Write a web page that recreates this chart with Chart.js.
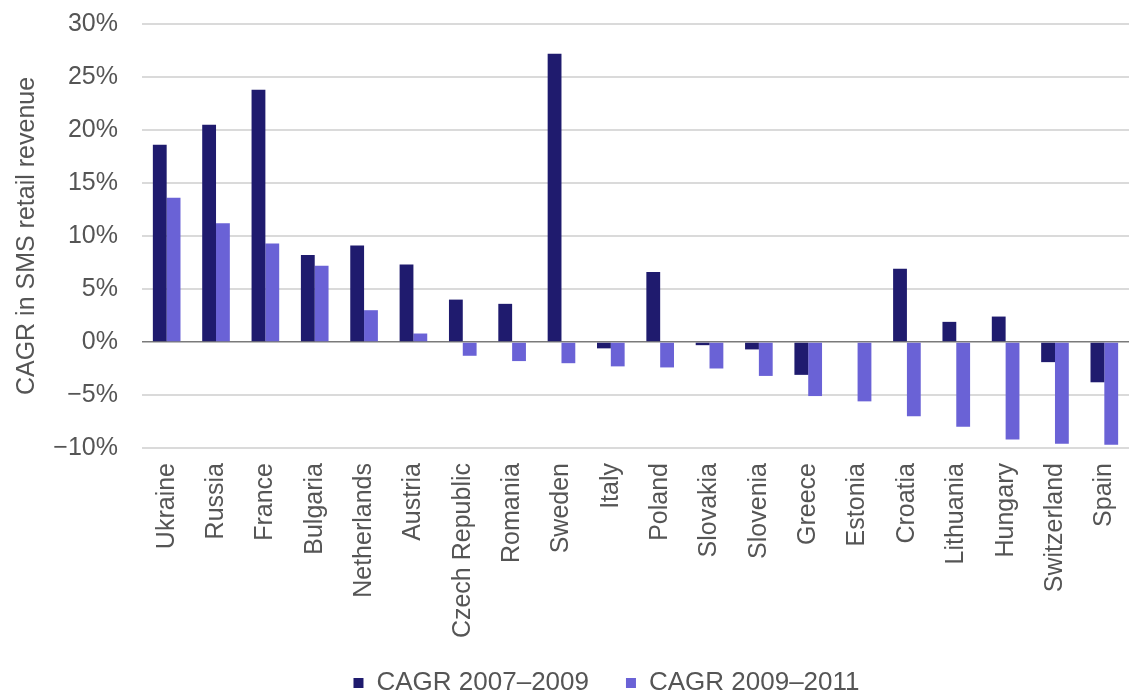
<!DOCTYPE html>
<html>
<head>
<meta charset="utf-8">
<script src="https://cdn.jsdelivr.net/npm/chart.js@4/dist/chart.umd.min.js"></script>
<style>
html,body{margin:0;padding:0;background:#fff;}
#wrap{width:1129px;height:698px;position:relative;}
</style>
</head>
<body>
<div id="wrap"><canvas id="c" width="1129" height="698"></canvas></div>
<script>
const categories = ["Ukraine","Russia","France","Bulgaria","Netherlands","Austria","Czech Republic","Romania","Sweden","Italy","Poland","Slovakia","Slovenia","Greece","Estonia","Croatia","Lithuania","Hungary","Switzerland","Spain"];
const cagr0709 = [18.6,20.5,23.8,8.2,9.1,7.3,4.0,3.6,27.2,-0.6,6.6,-0.3,-0.7,-3.1,0,6.9,1.9,2.4,-1.9,-3.8];
const cagr0911 = [13.6,11.2,9.3,7.2,3.0,0.8,-1.3,-1.8,-2.0,-2.3,-2.4,-2.5,-3.2,-5.1,-5.6,-7.0,-8.0,-9.2,-9.6,-9.7];
const seriesNames = ["CAGR 2007\u20132009","CAGR 2009\u20132011"];
const yTicks = [-10,-5,0,5,10,15,20,25,30];
const yTitle = "CAGR in SMS retail revenue";

const font = "'Liberation Sans', Arial, sans-serif";
const legendPad = 37;
const legendFont = 26;
const placeLegend = {
  id: 'placeLegend',
  afterLayout(chart) {
    const lg = chart.legend;
    if (!lg) return;
    const h = lg.bottom - lg.top;
    const top = 683 - legendPad - legendFont / 2;
    lg.top = top; lg.bottom = top + h;
    lg.left += 42; lg.right += 42;
  }
};
new Chart(document.getElementById('c'), {
  type: 'bar',
  data: {
    labels: categories,
    datasets: [
      {label: seriesNames[0], data: cagr0709, backgroundColor: '#1f1b6e', borderWidth: 0},
      {label: seriesNames[1], data: cagr0911, backgroundColor: '#6a62d6', borderWidth: 0}
    ]
  },
  plugins: [placeLegend],
  options: {
    responsive: false,
    animation: false,
    devicePixelRatio: 1,
    layout: {padding: {top: 24, right: 0, bottom: -35, left: 0}},
    datasets: {bar: {barPercentage: 1.0, categoryPercentage: 0.56}},
    plugins: {
      tooltip: {enabled: false},
      legend: {
        position: 'bottom',
        labels: {
          boxWidth: 10, boxHeight: 10, padding: legendPad,
          color: '#555', font: {family: font, size: legendFont}
        }
      }
    },
    scales: {
      x: {
        grid: {display: false, drawTicks: false},
        border: {display: false},
        ticks: {
          minRotation: 90, maxRotation: 90, autoSkip: false, padding: 15,
          color: '#555', font: {family: font, size: 25}
        },
        afterFit: (s) => { s.height = 212; s.paddingLeft = 0; s.paddingRight = 0; }
      },
      y: {
        min: -10, max: 30,
        afterBuildTicks: (s) => { s.ticks = yTicks.map(v => ({value: v})); },
        grid: {
          drawTicks: false,
          color: (ctx) => ctx.tick && ctx.tick.value === 0 ? '#7a7a7a' : '#dadada',
          lineWidth: (ctx) => ctx.tick && ctx.tick.value === 0 ? 1.5 : 2
        },
        border: {display: false},
        ticks: {
          padding: 24,
          color: '#555', font: {family: font, size: 25},
          callback: (v) => (v < 0 ? '\u2212' + Math.abs(v) : v) + '%'
        },
        title: {
          display: true, text: yTitle, color: '#555',
          font: {family: font, size: 25}, padding: {top: 12, bottom: 0}
        },
        afterFit: (s) => { s.width = 142; s.paddingTop = 0; s.paddingBottom = 0; }
      }
    }
  }
});
</script>
</body>
</html>
